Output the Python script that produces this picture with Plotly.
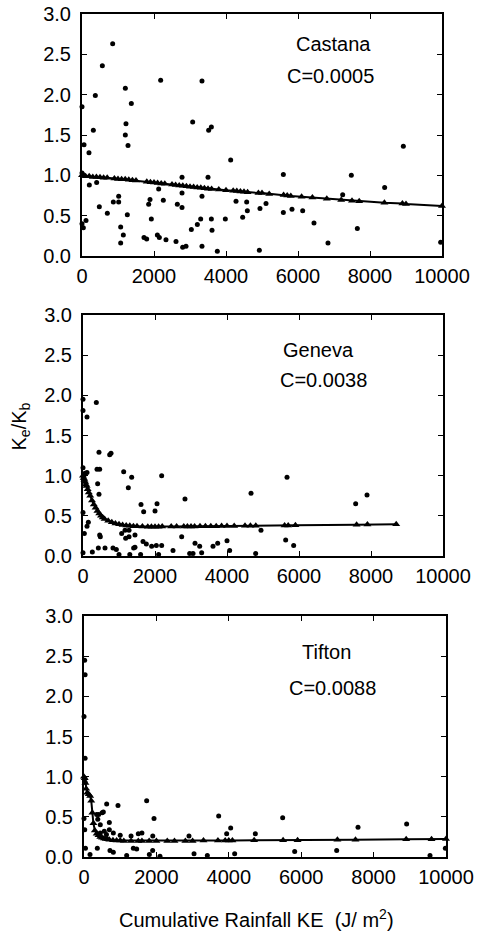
import plotly.graph_objects as go

# ---------------- data ----------------
site_names = ["Castana", "Geneva", "Tifton"]
site_c_labels = ["C=0.0005", "C=0.0038", "C=0.0088"]
x_tick_vals = [0, 2000, 4000, 6000, 8000, 10000]
x_tick_text = ["0", "2000", "4000", "6000", "8000", "10000"]
y_tick_vals = [0.0, 0.5, 1.0, 1.5, 2.0, 2.5, 3.0]

# Castana observed
castana_obs_x = [0, 0, 0, 37, 56, 111, 194, 204, 315, 370, 407, 481, 565, 704, 852, 870,
                 1019, 1019, 1074, 1074, 1148, 1204, 1204, 1222, 1259, 1278, 1370,
                 1722, 1796, 1852, 1889, 1926, 2093, 2130, 2148, 2185, 2259, 2333,
                 2611, 2648, 2778, 2778, 2778, 2796, 2889, 3037, 3074, 3204, 3296,
                 3333, 3333, 3333, 3500, 3518, 3593, 3593, 3611, 3759, 3981, 4130,
                 4278, 4463, 4574, 4593, 4926, 4944, 5111, 5593, 5593, 5833, 6130,
                 6444, 6833, 7241, 7481, 7648, 8407, 8926, 9963]
castana_obs_y = [1.85, 0.40, 1.03, 0.35, 1.38, 0.44, 1.28, 0.88, 1.56, 1.99, 0.91, 0.61, 2.36, 0.53, 2.63, 0.67,
                 0.74, 0.67, 0.36, 0.16, 0.26, 2.08, 1.50, 1.64, 0.51, 1.37, 1.89,
                 0.23, 0.21, 0.64, 0.70, 0.46, 0.26, 0.83, 0.23, 2.18, 0.69, 0.20,
                 0.18, 0.64, 0.60, 0.78, 0.975, 0.11, 0.12, 0.33, 1.66, 0.39, 0.46,
                 2.17, 0.74, 0.12, 0.975, 1.56, 1.60, 0.46, 0.32, 0.06, 0.46, 1.19,
                 0.68, 0.48, 0.67, 0.56, 0.07, 0.59, 0.65, 1.01, 0.54, 0.58, 0.56,
                 0.41, 0.16, 0.76, 1.00, 0.34, 0.85, 1.36, 0.17]
# Castana predicted (triangles on fitted line)
castana_fit_x = [0, 50, 100, 200, 300, 400, 500, 600, 700, 900, 1000, 1100, 1200, 1300, 1400, 1500,
                 1800, 1900, 2000, 2100, 2200, 2300, 2500, 2600, 2700, 2800, 2900, 3000, 3100,
                 3200, 3300, 3400, 3500, 3600, 3800, 4000, 4200, 4300, 4400, 4500, 4600, 4900,
                 5000, 5200, 5600, 5700, 5800, 6100, 6400, 6800, 7200, 7500, 7700, 8400, 8900,
                 9000, 10000]
castana_fit_y = [1.0, 1.0, 0.99, 0.99, 0.98, 0.98, 0.975, 0.97, 0.97, 0.96, 0.955, 0.95, 0.95, 0.945, 0.94, 0.935,
                 0.92, 0.915, 0.91, 0.905, 0.90, 0.895, 0.885, 0.88, 0.875, 0.87, 0.865, 0.86, 0.855,
                 0.85, 0.845, 0.84, 0.835, 0.83, 0.825, 0.815, 0.81, 0.805, 0.80, 0.795, 0.79, 0.78,
                 0.78, 0.77, 0.755, 0.75, 0.745, 0.735, 0.725, 0.71, 0.695, 0.685, 0.68, 0.66, 0.65,
                 0.645, 0.62]

# Geneva observed
geneva_obs_x = [0, 0, 0, 0, 0, 37, 56, 111, 111, 111, 148, 259, 370, 389, 407, 426, 444, 444,
                463, 463, 481, 611, 741, 778, 833, 926, 1074, 1130, 1167, 1185, 1259, 1278,
                1278, 1352, 1407, 1444, 1444, 1611, 1667, 1685, 1759, 1907, 2000, 2037, 2056,
                2185, 2185, 2500, 2741, 2833, 2963, 3056, 3111, 3241, 3296, 3611, 3741, 4000,
                4074, 4667, 4796, 4944, 5630, 5667, 5852, 7574, 7889, 1000, 1300, 1600, 2100]
geneva_obs_y = [1.95, 1.81, 0.54, 0.04, 1.10, 0.28, 1.03, 1.73, 1.04, 0.37, 0.42, 0.05, 1.91, 1.08, 0.90, 0.10, 1.29, 0.77,
                1.08, 0.26, 0.24, 0.10, 1.26, 1.28, 0.10, 0.08, 0.28, 1.05, 0.32, 0.22, 0.85, 0.24,
                0.32, 0.98, 0.10, 0.11, 0.26, 0.64, 0.18, 0.55, 0.15, 0.12, 0.56, 0.13, 0.65,
                1.00, 0.13, 0.07, 0.24, 0.71, 0.03, 0.03, 0.16, 0.12, 0.04, 0.12, 0.16, 0.19,
                0.07, 0.78, 0.03, 0.32, 0.20, 0.98, 0.13, 0.65, 0.76, 0.02, 0.02, 0.02, 0.02]
# Geneva predicted
geneva_fit_x = [0, 20, 40, 60, 80, 100, 130, 160, 200, 250, 300, 350, 400, 450, 500, 550, 600, 700,
                800, 900, 1000, 1100, 1200, 1300, 1400, 1500, 1650, 1800, 1900, 2000, 2100, 2200,
                2450, 2600, 2800, 2900, 3000, 3100, 3250, 3400, 3550, 3700, 3850, 4000, 4200, 4500,
                4650, 4800, 5600, 5700, 5900, 7600, 7900, 8700]
geneva_fit_y = [1.0, 0.97, 0.95, 0.92, 0.89, 0.87, 0.83, 0.79, 0.75, 0.69, 0.64, 0.60, 0.56, 0.53, 0.50, 0.48, 0.46, 0.44,
                0.42, 0.405, 0.395, 0.385, 0.38, 0.375, 0.37, 0.37, 0.367, 0.365, 0.365, 0.365, 0.365, 0.366,
                0.366, 0.367, 0.367, 0.368, 0.368, 0.368, 0.369, 0.37, 0.37, 0.371, 0.372, 0.372, 0.373, 0.375,
                0.376, 0.377, 0.38, 0.381, 0.382, 0.39, 0.392, 0.395]

# Tifton observed
tifton_obs_x = [18, 30, 0, 30, 0, 20, 40, 30, 166, 350, 405, 534, 500, 626, 939, 700, 368, 450,
                1731, 1934, 3720, 4052, 5488, 7569, 8913, 718, 810, 1179, 1805, 1897, 2099,
                1363, 1455, 3039, 3407, 4162, 5820, 6980, 9982, 9558, 810, 560, 620, 1000,
                1300, 1500, 1600, 1900, 2900, 3941, 4733, 450, 700, 380]
tifton_obs_y = [2.45, 2.27, 1.75, 1.23, 0.48, 0.34, 0.11, 0.93, 0.03, 0.53, 0.53, 0.56, 0.55, 0.66, 0.64, 0.43, 0.11, 0.30,
                0.70, 0.48, 0.51, 0.36, 0.49, 0.37, 0.41, 0.08, 0.06, 0.02, 0.03, 0.08, 0.01,
                0.11, 0.10, 0.04, 0.02, 0.04, 0.07, 0.08, 0.11, 0.02, 0.30, 0.32, 0.28, 0.27,
                0.26, 0.29, 0.30, 0.26, 0.26, 0.29, 0.29, 0.40, 0.34, 0.47]
# Tifton predicted
tifton_fit_x = [0, 20, 40, 60, 90, 130, 170, 200, 230, 260, 300, 350, 400, 450, 500, 550, 600, 650,
                700, 800, 900, 1000, 1100, 1300, 1500, 1600, 1800, 2000, 2300, 2500, 2800, 3000,
                3300, 3700, 3900, 4000, 4100, 4700, 5500, 5900, 7000, 7500, 8900, 9600, 10000]
tifton_fit_y = [1.0, 0.98, 0.92, 0.85, 0.80, 0.78, 0.76, 0.70, 0.55, 0.42, 0.33, 0.29, 0.27, 0.25, 0.24, 0.23, 0.225, 0.22,
                0.215, 0.21, 0.205, 0.205, 0.20, 0.20, 0.20, 0.20, 0.20, 0.20, 0.20, 0.20, 0.20, 0.20,
                0.205, 0.205, 0.205, 0.205, 0.205, 0.21, 0.21, 0.21, 0.215, 0.215, 0.22, 0.22, 0.225]

obs_x = [castana_obs_x, geneva_obs_x, tifton_obs_x]
obs_y = [castana_obs_y, geneva_obs_y, tifton_obs_y]
fit_x = [castana_fit_x, geneva_fit_x, tifton_fit_x]
fit_y = [castana_fit_y, geneva_fit_y, tifton_fit_y]

# ---------------- layout ----------------
W, H = 477, 932
FONT = "Liberation Sans, Arial, sans-serif"
# pixel boxes in page coordinates: (left, right, top, bottom)
boxes = [(82, 442, 14, 256), (83, 443, 315, 556), (84, 446, 616, 857)]
label_pos = [((333, 44), (330, 76)), ((318, 350), (323, 380)), ((326, 652), (332, 688))]


def px(x):
    return x / W


def py(y):
    return 1 - y / H


fig = go.Figure()
layout = dict(
    width=W, height=H, margin=dict(l=0, r=0, t=0, b=0),
    paper_bgcolor="white", plot_bgcolor="white", showlegend=False,
    font=dict(family=FONT, color="black", size=20),
)
annotations = []
for i in range(3):
    l, r, t, b = boxes[i]
    xa = "xaxis" if i == 0 else f"xaxis{i+1}"
    ya = "yaxis" if i == 0 else f"yaxis{i+1}"
    xr = "x" if i == 0 else f"x{i+1}"
    yr = "y" if i == 0 else f"y{i+1}"
    layout[xa] = dict(
        domain=[px(l), px(r)], anchor=yr, range=[0, 10000], tickvals=x_tick_vals,
        ticktext=x_tick_text,
        ticks="inside", ticklen=5, tickwidth=1.2, tickcolor="black", showline=True,
        linecolor="black", linewidth=2, mirror="ticks", showgrid=False, zeroline=False,
        tickfont=dict(size=20, family=FONT), automargin=False, ticklabelstandoff=1,
        ticklabeloverflow="allow",
    )
    layout[ya] = dict(
        domain=[py(b), py(t)], anchor=xr, range=[0, 3], tickvals=y_tick_vals,
        tickformat=".1f", ticks="inside", ticklen=5, tickwidth=1.2, tickcolor="black",
        showline=True, linecolor="black", linewidth=2, mirror="ticks", showgrid=False,
        zeroline=False, tickfont=dict(size=20, family=FONT), automargin=False,
        ticklabelstandoff=5, ticklabeloverflow="allow",
    )
    fig.add_trace(go.Scatter(
        x=obs_x[i], y=obs_y[i], mode="markers", xaxis=xr, yaxis=yr,
        marker=dict(symbol="circle", size=5, color="black"), cliponaxis=False,
    ))
    fig.add_trace(go.Scatter(
        x=fit_x[i], y=fit_y[i], mode="lines+markers", xaxis=xr, yaxis=yr,
        line=dict(color="black", width=2),
        marker=dict(symbol="triangle-up", size=7, color="black"), cliponaxis=False,
    ))
    (nx, ny), (cx, cy) = label_pos[i]
    annotations.append(dict(x=px(nx), y=py(ny), xref="paper", yref="paper",
                            text=site_names[i], showarrow=False, font=dict(size=20),
                            xanchor="center", yanchor="middle"))
    annotations.append(dict(x=px(cx), y=py(cy), xref="paper", yref="paper",
                            text=site_c_labels[i], showarrow=False, font=dict(size=20),
                            xanchor="center", yanchor="middle"))

annotations.append(dict(x=px(256), y=py(918), xref="paper", yref="paper",
                        text="Cumulative Rainfall KE  (J/ m<sup>2</sup>)", showarrow=False,
                        font=dict(size=20), xanchor="center", yanchor="middle"))
annotations.append(dict(x=px(5), y=py(427), xref="paper", yref="paper",
                        text="K<sub>e</sub>/K<sub>b</sub>", showarrow=False, textangle=-90,
                        font=dict(size=20), xanchor="left", yanchor="middle"))
layout["annotations"] = annotations
fig.update_layout(**layout)
fig.write_html(
    "out.html",
    config={"displayModeBar": False},
    post_script="document.body.style.margin='0';document.body.style.overflow='hidden';",
)
